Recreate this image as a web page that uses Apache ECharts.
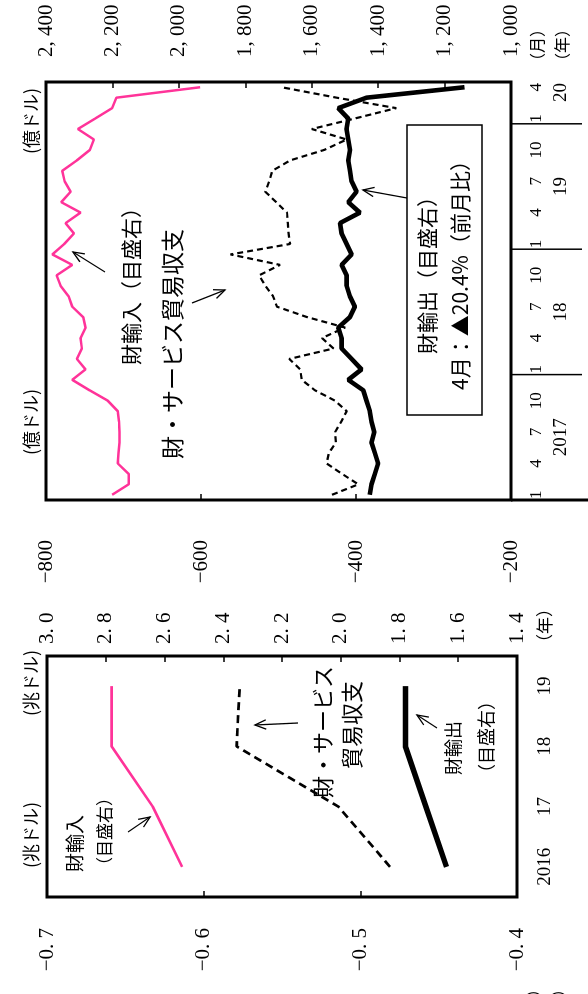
<!DOCTYPE html>
<html><head><meta charset="utf-8">
<script src="https://cdn.jsdelivr.net/npm/echarts@6/dist/echarts.min.js"></script>
<style>
html,body{margin:0;padding:0;background:#fff;overflow:hidden;width:588px;height:994px}
#chart{position:absolute;left:0;top:0;width:994px;height:588px;transform-origin:0 0;transform:translate(0,994px) rotate(-90deg);}
</style></head><body><div id="chart"></div><script>
// ---------- data ----------
var annualYears = ['2016', '17', '18', '19'];
var annualBalance = [-0.481, -0.514, -0.579, -0.577];   // 兆ドル, left (inverted)
var annualImports = [2.54, 2.64, 2.78, 2.78];           // 兆ドル, right
var annualExports = [1.64, 1.71, 1.78, 1.78];           // 兆ドル, right

var months = ['2017-01','2017-02','2017-03','2017-04','2017-05','2017-06','2017-07','2017-08','2017-09','2017-10','2017-11','2017-12',
              '2018-01','2018-02','2018-03','2018-04','2018-05','2018-06','2018-07','2018-08','2018-09','2018-10','2018-11','2018-12',
              '2019-01','2019-02','2019-03','2019-04','2019-05','2019-06','2019-07','2019-08','2019-09','2019-10','2019-11','2019-12',
              '2020-01','2020-02','2020-03','2020-04'];
var monthlyBalance = [-431,-397,-418,-438,-435,-426,-427,-419,-412,-427,-453,-470,
                      -472,-486,-429,-444,-414,-463,-502,-507,-517,-525,-498,-562,
                      -485,-487,-488,-489,-503,-517,-512,-508,-485,-441,-412,-457,
                      -402,-348,-425,-496];
var monthlyImports = [2201,2151,2151,2184,2182,2179,2179,2180,2184,2214,2269,2321,
                      2281,2307,2292,2296,2281,2288,2321,2332,2356,2368,2321,2381,
                      2345,2316,2341,2296,2354,2326,2344,2351,2307,2268,2256,2304,
                      2252,2201,2188,1936];
var monthlyExports = [1425,1420,1410,1400,1410,1420,1412,1420,1425,1435,1445,1490,
                      1450,1480,1510,1510,1520,1485,1470,1485,1495,1495,1510,1480,
                      1495,1510,1515,1455,1490,1465,1480,1485,1490,1485,1490,1495,
                      1490,1520,1435,1140];
var yearLabels = {6: '2017', 18: '18', 30: '19', 39: '20'};   // month-position -> year text
var yearBoundaries = [0, 12, 24, 36];

// ---------- style ----------
var PINK = '#FF3399';
var NUM = 'Liberation Serif';
var JP = 'Noto Sans CJK JP';

function fmtDec(v){ var s = Math.abs(v).toFixed(1).replace('.', '. '); return (v < 0 ? '\u2212' : '') + s; }
function fmtThou(v){ var s = String(Math.round(v)); return s.length > 3 ? s.slice(0, s.length-3) + ', ' + s.slice(-3) : s; }

var chart = echarts.init(document.getElementById('chart'), null, {renderer: 'canvas'});

var tickIn = {show: true, inside: true, length: 6, lineStyle: {color: '#000', width: 1.5}};
var noLine = {show: false};

var option = {
  animation: false,
  backgroundColor: '#fff',
  grid: [
    {left: 97, top: 47, width: 241, height: 470, show: true, borderColor: '#000', borderWidth: 3, containLabel: false},
    {left: 494, top: 46, width: 418, height: 465, show: true, borderColor: '#000', borderWidth: 3, containLabel: false}
  ],
  xAxis: [
    {gridIndex: 0, type: 'category', data: annualYears, boundaryGap: true,
     axisLine: noLine, axisTick: {show: false},
     axisLabel: {margin: 19, fontFamily: NUM, fontSize: 19, color: '#000'}},
    {gridIndex: 1, type: 'category', data: months, boundaryGap: true,
     axisLine: noLine, axisTick: {show: false},
     axisLabel: {margin: 17, fontFamily: NUM, fontSize: 17, color: '#000',
                 interval: function(i){ return i % 3 === 0; },
                 formatter: function(v){ return String(parseInt(v.split('-')[1], 10)); }}},
    {gridIndex: 1, type: 'value', min: 0, max: 40, interval: 1, position: 'bottom',
     axisLine: noLine, axisTick: {show: false}, splitLine: {show: false},
     axisLabel: {margin: 41, fontFamily: NUM, fontSize: 19, color: '#000',
                 formatter: function(v){ return yearLabels[v] || ''; }}}
  ],
  yAxis: [
    {gridIndex: 0, type: 'value', min: -0.7, max: -0.4, interval: 0.1, inverse: true, position: 'left',
     axisLine: noLine, axisTick: tickIn, splitLine: {show: false},
     axisLabel: {margin: 31, fontFamily: NUM, fontSize: 21, color: '#000', formatter: fmtDec}},
    {gridIndex: 0, type: 'value', min: 1.4, max: 3.0, interval: 0.2, position: 'right',
     axisLine: noLine, axisTick: tickIn, splitLine: {show: false},
     axisLabel: {margin: 12, fontFamily: NUM, fontSize: 21, color: '#000', formatter: fmtDec}},
    {gridIndex: 1, type: 'value', min: -800, max: -200, interval: 200, inverse: true, position: 'left',
     axisLine: noLine, axisTick: tickIn, splitLine: {show: false},
     axisLabel: {margin: 40, fontFamily: NUM, fontSize: 21, color: '#000',
                 formatter: function(v){ return '\u2212' + Math.abs(v); }}},
    {gridIndex: 1, type: 'value', min: 1000, max: 2400, interval: 200, position: 'right',
     axisLine: noLine, axisTick: tickIn, splitLine: {show: false},
     axisLabel: {margin: 25, fontFamily: NUM, fontSize: 21, color: '#000', formatter: fmtThou}}
  ],
  series: [
    {name: '財・サービス貿易収支', type: 'line', xAxisIndex: 0, yAxisIndex: 0, data: annualBalance, symbol: 'none',
     lineStyle: {color: '#000', width: 2.7, type: [8, 5]}},
    {name: '財輸入', type: 'line', xAxisIndex: 0, yAxisIndex: 1, data: annualImports, symbol: 'none',
     lineStyle: {color: PINK, width: 2.6}},
    {name: '財輸出', type: 'line', xAxisIndex: 0, yAxisIndex: 1, data: annualExports, symbol: 'none',
     lineStyle: {color: '#000', width: 5.5}},
    {name: '財・サービス貿易収支(月次)', type: 'line', xAxisIndex: 1, yAxisIndex: 2, data: monthlyBalance, symbol: 'none',
     lineStyle: {color: '#000', width: 2.2, type: [6, 4]}},
    {name: '財輸入(月次)', type: 'line', xAxisIndex: 1, yAxisIndex: 3, data: monthlyImports, symbol: 'none',
     lineStyle: {color: PINK, width: 2.5}},
    {name: '財輸出(月次)', type: 'line', xAxisIndex: 1, yAxisIndex: 3, data: monthlyExports, symbol: 'none',
     lineStyle: {color: '#000', width: 4.6}}
  ]
};
chart.setOption(option);

// ---------- annotations ----------
function txt(t, x, y, size, align, family){
  return {type: 'text', z: 50, style: {text: t, x: x, y: y, fontSize: size, fontFamily: family || JP,
          fill: '#000', align: align || 'left', verticalAlign: 'middle'}};
}
function arrow(x0, y0, x1, y1){
  var ang = Math.atan2(y1 - y0, x1 - x0), L = 12, a = 0.4;
  return {type: 'group', z: 50, children: [
    {type: 'line', shape: {x1: x0, y1: y0, x2: x1, y2: y1}, style: {stroke: '#000', lineWidth: 1.3}},
    {type: 'polyline', shape: {points: [[x1 - L*Math.cos(ang - a), y1 - L*Math.sin(ang - a)], [x1, y1],
                                         [x1 - L*Math.cos(ang + a), y1 - L*Math.sin(ang + a)]]},
     style: {stroke: '#000', lineWidth: 1.3, fill: null}}
  ]};
}
var g = [];
// unit labels
g.push(txt('(兆ドル)', 159, 31, 18, 'center'));
g.push(txt('(兆ドル)', 311, 31, 18, 'center'));
g.push(txt('(億ドル)', 572, 31, 18, 'center'));
g.push(txt('(億ドル)', 873, 31, 18, 'center'));
// annual axis unit
g.push(txt('（年）', 343, 545, 17, 'left'));
// monthly axis units
g.push(txt('（月）', 925, 537, 16, 'left'));
g.push(txt('（年）', 925, 562, 16, 'left'));
// cut-off units at far left
g.push(txt('（月）', 13, 533, 16, 'right'));
g.push(txt('（年）', 13, 558, 16, 'right'));
// annual annotations
g.push(txt('財輸入', 122, 75, 19));
g.push(txt('（目盛右）', 120, 105, 17));
g.push(arrow(162, 128, 177, 150));
g.push(txt('財・サービス', 262, 323, 22, 'center'));
g.push(txt('貿易収支', 269, 352, 22, 'center'));
g.push(arrow(271, 298, 269, 255));
g.push(txt('財輸出', 219, 453, 18));
g.push(txt('（目盛右）', 212, 486, 18));
g.push(arrow(266, 437, 279, 417));
// monthly annotations
g.push(txt('財輸入（目盛右）', 629, 131, 21));
g.push(arrow(722, 105, 742, 73));
g.push(txt('財・サービス貿易収支', 535, 172, 23));
g.push(arrow(691, 192, 704, 225));
g.push({type: 'rect', z: 45, shape: {x: 579, y: 407, width: 290, height: 75}, style: {fill: '#fff', stroke: '#000', lineWidth: 1.5}});
g.push(txt('財輸出（目盛右）', 724, 427, 21, 'center'));
g.push(txt('4月：▲20.4%（前月比）', 724, 460, 21, 'center'));
g.push(arrow(796, 407, 804, 363));
// year separators below the monthly axis
var bottomY = 46 + 465;
yearBoundaries.forEach(function(v){
  var px = chart.convertToPixel({xAxisIndex: 2}, v);
  g.push({type: 'line', z: 40, shape: {x1: px, y1: bottomY, x2: px, y2: v === 0 ? 588 : 582},
          style: {stroke: '#000', lineWidth: v === 0 ? 3 : 1.5}});
});
chart.setOption({graphic: {elements: g}});
</script></body></html>
